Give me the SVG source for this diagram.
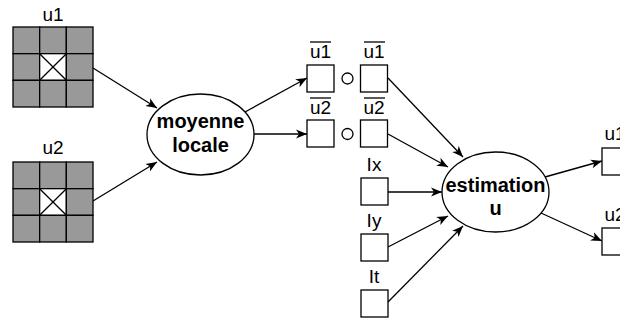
<svg xmlns="http://www.w3.org/2000/svg" width="620" height="322" viewBox="0 0 620 322">
<style>
.g{fill:#999999;stroke:#000;stroke-width:1.3}
.w{fill:#fff;stroke:#000;stroke-width:1.3}
.l{stroke:#000;stroke-width:1.3;fill:none}
.t{font-family:"Liberation Sans",Arial,sans-serif;font-size:19px;fill:#000;text-anchor:middle}
.b{font-family:"Liberation Sans",Arial,sans-serif;font-size:20px;font-weight:bold;fill:#000;text-anchor:middle}
</style>
<defs>
<marker id="a" markerUnits="userSpaceOnUse" markerWidth="12" markerHeight="10" refX="11" refY="5" orient="auto">
<path d="M0,0.5 L11,5 L0,9.5 L3,5 z" fill="#000"/>
</marker>
<g id="grid">
<rect class="g" x="0" y="0" width="26.67" height="26.67"/>
<rect class="g" x="26.67" y="0" width="26.67" height="26.67"/>
<rect class="g" x="53.33" y="0" width="26.67" height="26.67"/>
<rect class="g" x="0" y="26.67" width="26.67" height="26.67"/>
<rect class="w" x="26.67" y="26.67" width="26.67" height="26.67"/>
<rect class="g" x="53.33" y="26.67" width="26.67" height="26.67"/>
<rect class="g" x="0" y="53.33" width="26.67" height="26.67"/>
<rect class="g" x="26.67" y="53.33" width="26.67" height="26.67"/>
<rect class="g" x="53.33" y="53.33" width="26.67" height="26.67"/>
<path class="l" d="M26.67,26.67 L53.33,53.33 M53.33,26.67 L26.67,53.33"/>
</g>
</defs>
<g id="connectors" class="l">
<line x1="93" y1="68" x2="157" y2="108" marker-end="url(#a)"/>
<line x1="93" y1="201" x2="157" y2="162" marker-end="url(#a)"/>
<line x1="245" y1="112" x2="307" y2="78" marker-end="url(#a)"/>
<line x1="254" y1="134" x2="307" y2="134" marker-end="url(#a)"/>
<line x1="388" y1="78" x2="463" y2="157" marker-end="url(#a)"/>
<line x1="388" y1="134" x2="448" y2="167" marker-end="url(#a)"/>
<line x1="388" y1="192" x2="442" y2="192" marker-end="url(#a)"/>
<line x1="388" y1="247" x2="448" y2="216" marker-end="url(#a)"/>
<line x1="388" y1="302" x2="463" y2="226" marker-end="url(#a)"/>
<line x1="545" y1="177" x2="602" y2="161" marker-end="url(#a)"/>
<line x1="541" y1="213" x2="602" y2="241" marker-end="url(#a)"/>
</g>
<g id="u1-grid">
<text class="t" x="53" y="21">u1</text>
<use href="#grid" x="13" y="27"/>
</g>
<g id="u2-grid">
<text class="t" x="53" y="154">u2</text>
<use href="#grid" x="13" y="162"/>
</g>
<g id="moyenne">
<ellipse class="w" cx="200.5" cy="134.5" rx="53.5" ry="40.5"/>
<text class="b" x="200.5" y="128">moyenne</text>
<text class="b" x="200.5" y="151.5">locale</text>
</g>
<g id="u1bar-a">
<text class="t" x="320.5" y="58">u1</text>
<line class="l" x1="310" y1="42" x2="331" y2="42"/>
<rect class="w" x="307" y="65" width="27" height="27"/>
</g>
<g id="o1"><circle class="w" cx="347.5" cy="78.5" r="5.5"/></g>
<g id="u1bar-b">
<text class="t" x="374" y="58">u1</text>
<line class="l" x1="364" y1="42" x2="385" y2="42"/>
<rect class="w" x="360.5" y="65" width="27" height="27"/>
</g>
<g id="u2bar-a">
<text class="t" x="320.5" y="114">u2</text>
<line class="l" x1="310" y1="98" x2="331" y2="98"/>
<rect class="w" x="307" y="120" width="27" height="27"/>
</g>
<g id="o2"><circle class="w" cx="347.5" cy="134" r="5.5"/></g>
<g id="u2bar-b">
<text class="t" x="374" y="114">u2</text>
<line class="l" x1="364" y1="98" x2="385" y2="98"/>
<rect class="w" x="360.5" y="120" width="27" height="27"/>
</g>
<g id="Ix">
<text class="t" x="374" y="171">Ix</text>
<rect class="w" x="361" y="178" width="27" height="27"/>
</g>
<g id="Iy">
<text class="t" x="374" y="227">Iy</text>
<rect class="w" x="361" y="234" width="27" height="27"/>
</g>
<g id="It">
<text class="t" x="374" y="283">It</text>
<rect class="w" x="361" y="290" width="27" height="27"/>
</g>
<g id="estimation">
<ellipse class="w" cx="495.5" cy="192" rx="53.5" ry="40"/>
<text class="b" x="495.5" y="192">estimation</text>
<text class="b" x="495.5" y="214.5">u</text>
</g>
<g id="u1-out">
<text class="t" x="615" y="140">u1</text>
<rect class="w" x="602" y="148" width="27" height="27"/>
</g>
<g id="u2-out">
<text class="t" x="615" y="221">u2</text>
<rect class="w" x="602" y="228" width="27" height="27"/>
</g>
</svg>
